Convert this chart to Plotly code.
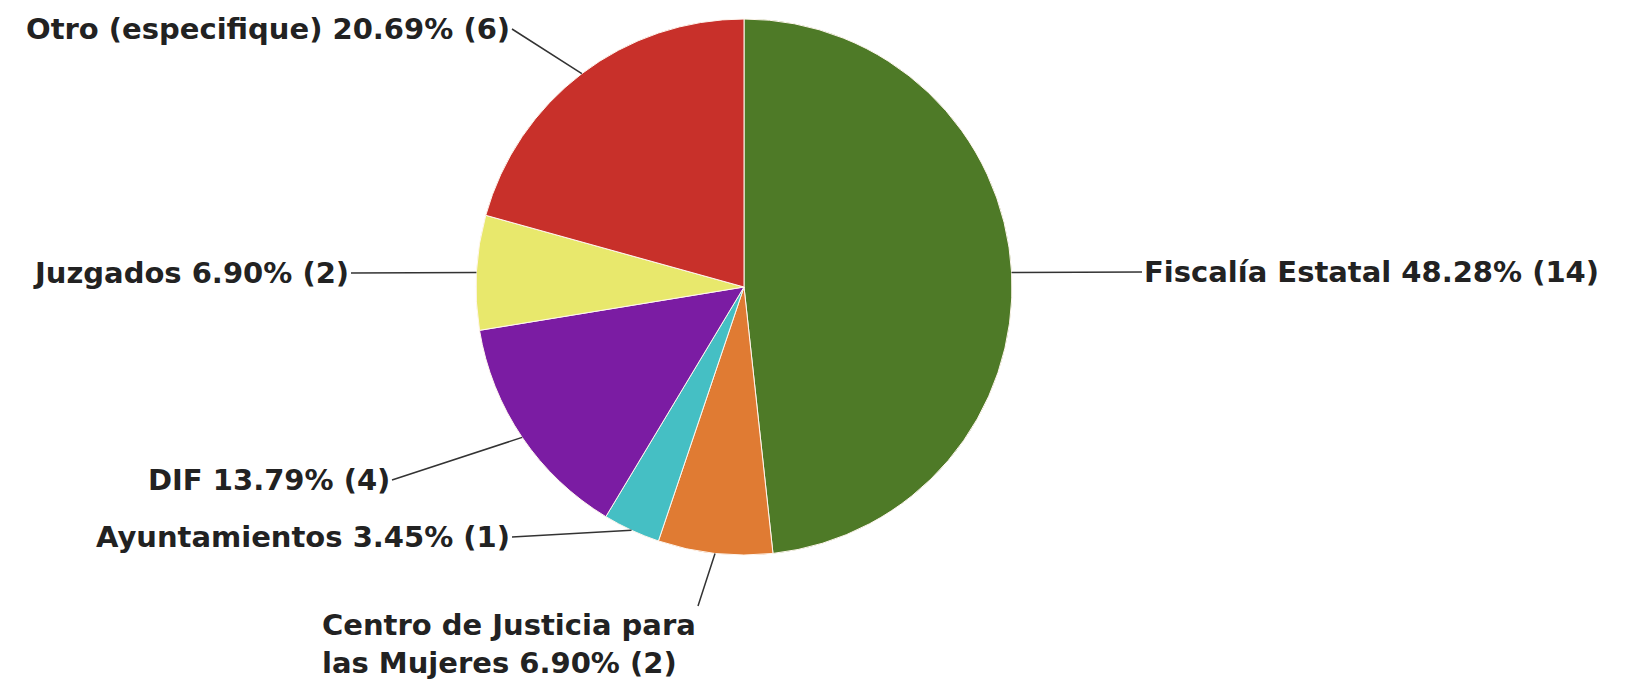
import math
import plotly.graph_objects as go

categories = ["Fiscalía Estatal", "Centro de Justicia para<br>las Mujeres", "Ayuntamientos",
              "DIF", "Juzgados", "Otro (especifique)"]
counts = [14, 2, 1, 4, 2, 6]
colors = ["#4E7A27", "#E07B33", "#45BFC4", "#7B1CA3", "#E8E86C", "#C8302A"]

W, H = 1628, 686
cx, cy = 736, 279          # pie centre (px)
R = 268                    # pie radius (px)

dom_x = [(cx - R) / W, (cx + R) / W]
dom_y = [1 - (cy + R) / H, 1 - (cy - R) / H]

fig = go.Figure(go.Pie(
    labels=categories, values=counts, sort=False, direction="clockwise",
    rotation=0, marker=dict(colors=colors, line=dict(color="#FFF6EE", width=1)),
    textinfo="none", hoverinfo="label+percent+value", showlegend=False,
    domain=dict(x=dom_x, y=dom_y),
))

# label placement (text tail position in px, anchors)
placement = [
    dict(tx=1134, ty=264, xa="left", ya="middle"),
    dict(tx=690, ty=598, xa="right", ya="top"),
    dict(tx=504, ty=529, xa="right", ya="middle"),
    dict(tx=384, ty=472, xa="right", ya="middle"),
    dict(tx=343, ty=265, xa="right", ya="middle"),
    dict(tx=504, ty=21, xa="right", ya="middle"),
]

total = sum(counts)
cum = 0
annotations = []
for cat, v, p in zip(categories, counts, placement):
    mid = (cum + v / 2) / total * 2 * math.pi
    cum += v
    px = cx + R * math.sin(mid)
    py = cy - R * math.cos(mid)
    pct = v / total * 100
    text = f"{cat} {pct:.2f}% ({v})"
    annotations.append(dict(
        xref="paper", yref="paper", x=px / W, y=1 - py / H,
        ax=p["tx"] - px, ay=p["ty"] - py,
        xanchor=p["xa"], yanchor=p["ya"], align="left",
        text=f"<b>{text}</b>", showarrow=True, arrowhead=0,
        arrowwidth=1.5, arrowcolor="#333333", standoff=0,
        font=dict(family="DejaVu Sans", size=29, color="#222222"),
    ))

fig.update_layout(
    width=W, height=H, margin=dict(l=0, r=0, t=0, b=0),
    paper_bgcolor="white", plot_bgcolor="white",
    annotations=annotations,
)
fig.write_html("out.html")
